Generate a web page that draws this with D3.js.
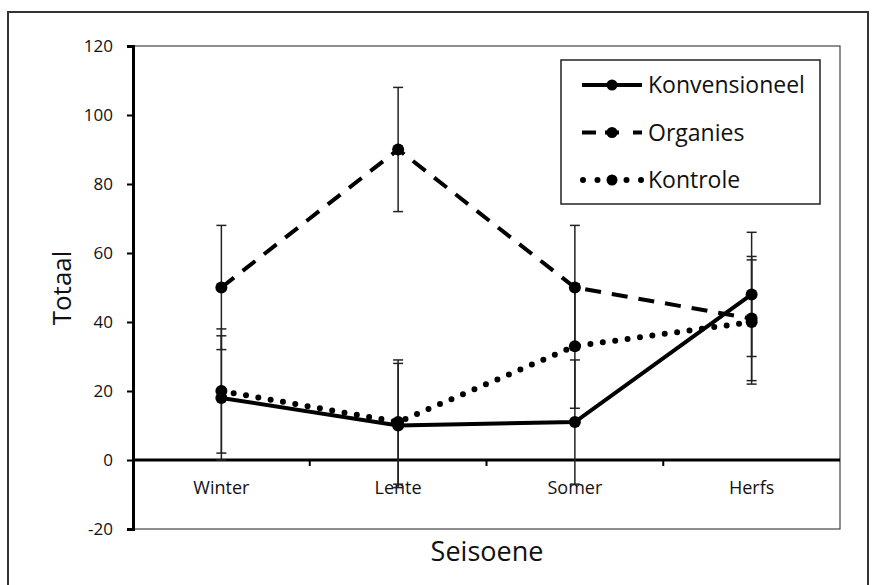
<!DOCTYPE html>
<html>
<head>
<meta charset="utf-8">
<script src="https://cdn.jsdelivr.net/npm/d3@7"></script>
<style>
  body { margin: 0; background: #fff; }
  text { font-family: "Open Sans", sans-serif; fill: #111; }
</style>
</head>
<body>
<svg id="vis"></svg>
<script>
const svg = d3.select("#vis").attr("width", 876).attr("height", 585);

// data
const seasons = ["Winter", "Lente", "Somer", "Herfs"];
const konvensioneel = [18, 10, 11, 48];
const organies = [50, 90, 50, 41];
const kontrole = [20, 11, 33, 40];
const konvErr = [18, 18, 18, 18];
const orgErr = [18, 18, 18, 18];
const kontErr = [18, 18, 18, 18];
const yTicks = [-20, 0, 20, 40, 60, 80, 100, 120];

const series = [
    {name: "Organies", values: organies, err: orgErr, dash: "16,11", cap: "butt", width: 4},
    {name: "Kontrole", values: kontrole, err: kontErr, dash: "0,12.5", cap: "round", width: 6},
    {name: "Konvensioneel", values: konvensioneel, err: konvErr, dash: null, cap: "butt", width: 4},
];

const xscale = d3.scaleBand().domain(seasons).range([133, 840]);
const yscale = d3.scaleLinear().domain([-20, 120]).range([529, 46]);
const cx = s => xscale(s) + xscale.bandwidth() / 2;

function main() {
    drawFrame();
    drawAxes();
    drawErrorBars();
    drawLines();
    drawLegend();
}

function drawFrame() {
    // outer chart border
    svg.append("rect")
        .attr("x", 8).attr("y", 12)
        .attr("width", 860).attr("height", 590)
        .attr("fill", "none").attr("stroke", "#333").attr("stroke-width", 2);
    // plot area border
    svg.append("rect")
        .attr("x", 133).attr("y", yscale(120))
        .attr("width", 840 - 133).attr("height", yscale(-20) - yscale(120))
        .attr("fill", "none").attr("stroke", "#444").attr("stroke-width", 1.2);
}

function drawAxes() {
    const yAxis = d3.axisLeft(yscale).tickValues(yTicks).tickSize(6).tickPadding(14)
        .tickFormat(d => String(d));   // plain hyphen, like the original
    const gy = svg.append("g").attr("transform", "translate(133,0)").call(yAxis);
    gy.select(".domain").attr("stroke", "#000").attr("stroke-width", 3);
    gy.selectAll(".tick line").attr("stroke", "#000").attr("stroke-width", 2);
    gy.selectAll("text").style("font-size", "17px").style("font-family", "Open Sans").attr("fill", "#111");

    // x axis on y = 0, ticks between categories
    const xg = svg.append("g");
    xg.append("line")
        .attr("x1", 133).attr("x2", 840)
        .attr("y1", yscale(0)).attr("y2", yscale(0))
        .attr("stroke", "#000").attr("stroke-width", 3);
    xg.selectAll(".xtick").data(seasons.slice(1)).join("line")
        .attr("class", "xtick")
        .attr("x1", d => xscale(d)).attr("x2", d => xscale(d))
        .attr("y1", yscale(0)).attr("y2", yscale(0) + 6)
        .attr("stroke", "#000").attr("stroke-width", 2);
    xg.selectAll(".xlabel").data(seasons).join("text")
        .attr("class", "xlabel")
        .attr("x", cx).attr("y", yscale(0) + 34)
        .attr("text-anchor", "middle")
        .style("font-size", "18px")
        .text(d => d);

    svg.append("text")
        .attr("x", 487).attr("y", 561)
        .attr("text-anchor", "middle")
        .style("font-size", "27px")
        .text("Seisoene");
    svg.append("text")
        .attr("transform", "translate(71,288) rotate(-90)")
        .attr("text-anchor", "middle")
        .style("font-size", "26px")
        .text("Totaal");
}

function drawErrorBars() {
    const CAP = 5;
    series.forEach(s => {
        const g = svg.append("g").attr("class", "err");
        const pts = seasons.map((d, i) => ({x: cx(d), v: s.values[i], e: s.err[i]}));
        g.selectAll("line.bar").data(pts).join("line")
            .attr("class", "bar")
            .attr("x1", d => d.x).attr("x2", d => d.x)
            .attr("y1", d => yscale(d.v + d.e)).attr("y2", d => yscale(d.v - d.e))
            .attr("stroke", "#222").attr("stroke-width", 1.5);
        ["+", "-"].forEach(sign => {
            g.selectAll("line.cap" + (sign === "+" ? "hi" : "lo")).data(pts).join("line")
                .attr("class", "cap" + (sign === "+" ? "hi" : "lo"))
                .attr("x1", d => d.x - CAP).attr("x2", d => d.x + CAP)
                .attr("y1", d => yscale(sign === "+" ? d.v + d.e : d.v - d.e))
                .attr("y2", d => yscale(sign === "+" ? d.v + d.e : d.v - d.e))
                .attr("stroke", "#222").attr("stroke-width", 1.5);
        });
    });
}

function drawLines() {
    const line = d3.line().x((d, i) => cx(seasons[i])).y(d => yscale(d));
    series.forEach(s => {
        const path = svg.append("path")
            .datum(s.values)
            .attr("d", line)
            .attr("fill", "none")
            .attr("stroke", "#000")
            .attr("stroke-width", s.width)
            .attr("stroke-linecap", s.cap);
        if (s.dash) path.attr("stroke-dasharray", s.dash);
        svg.selectAll(".pt-" + s.name).data(s.values).join("circle")
            .attr("class", "pt-" + s.name)
            .attr("cx", (d, i) => cx(seasons[i]))
            .attr("cy", d => yscale(d))
            .attr("r", 6)
            .attr("fill", "#000");
    });
}

function drawLegend() {
    const legendOrder = ["Konvensioneel", "Organies", "Kontrole"];
    const lg = svg.append("g");
    lg.append("rect")
        .attr("x", 561).attr("y", 60)
        .attr("width", 259).attr("height", 144)
        .attr("fill", "#fff").attr("stroke", "#222").attr("stroke-width", 1.5);
    legendOrder.forEach((name, i) => {
        const s = series.find(d => d.name === name);
        const y = 85 + i * 47.5;
        const l = lg.append("line")
            .attr("x1", 582).attr("x2", 642)
            .attr("y1", y).attr("y2", y)
            .attr("stroke", "#000")
            .attr("stroke-width", s.width)
            .attr("stroke-linecap", s.cap);
        if (name === "Organies") l.attr("stroke-dasharray", "14,9,14");
        if (name === "Kontrole") l.attr("x1", 583).attr("stroke-dasharray", "0,14.5");
        lg.append("circle").attr("cx", 612).attr("cy", y).attr("r", 5.5).attr("fill", "#000");
        lg.append("text")
            .attr("x", 648).attr("y", y + 8)
            .style("font-size", "23px")
            .attr("fill", "#222")
            .text(name);
    });
}

main();
</script>
</body>
</html>
